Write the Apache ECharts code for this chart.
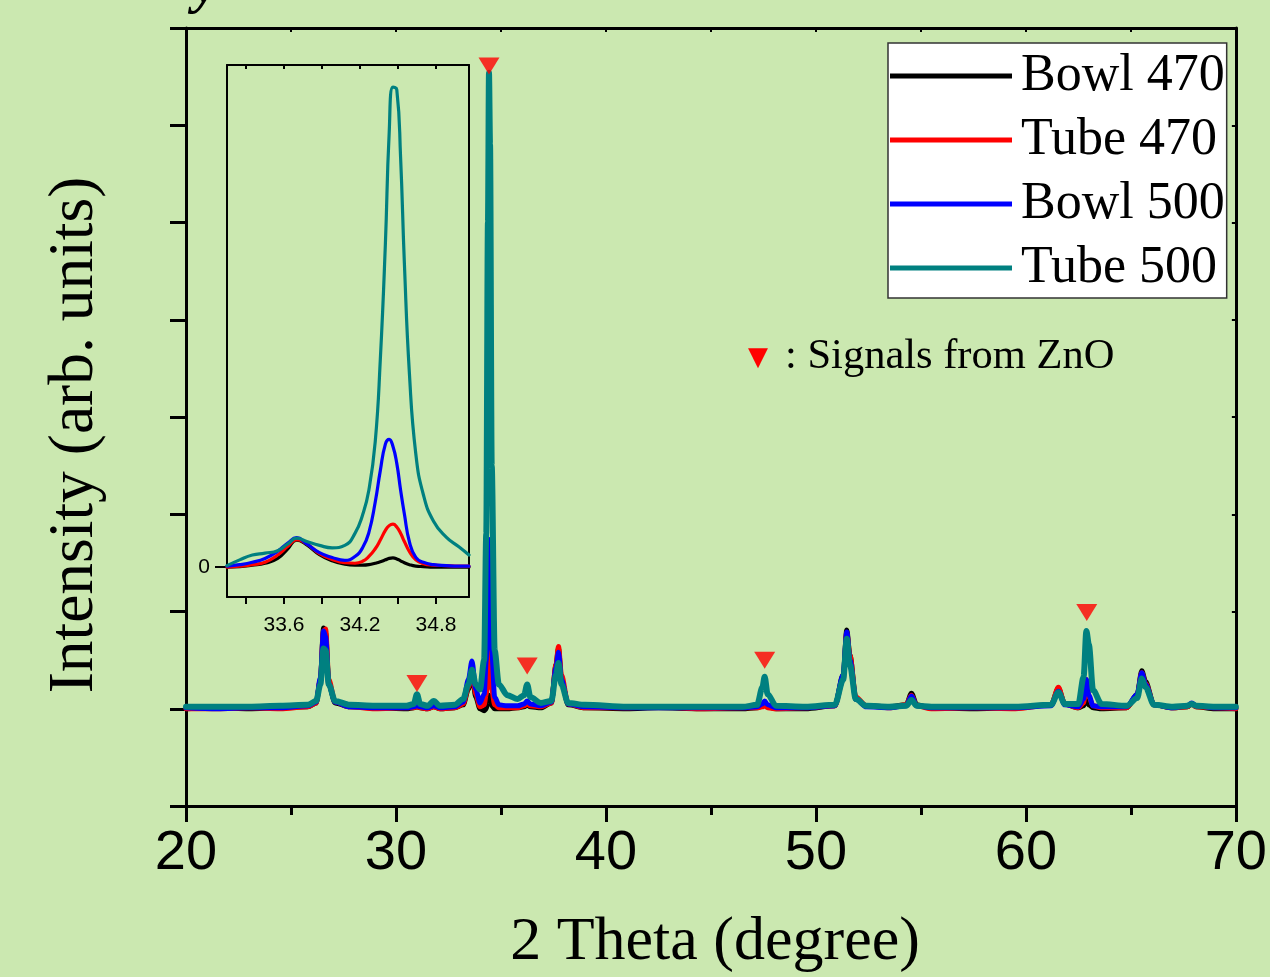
<!DOCTYPE html>
<html><head><meta charset="utf-8">
<script src="https://cdn.jsdelivr.net/npm/echarts@6/dist/echarts.min.js"></script>
<style>html,body{margin:0;padding:0;background:#cbe8b0;}#c{width:1270px;height:977px;}</style>
</head><body><div id="c"></div>
<script>
// ---- main pattern (2 theta, intensity in arb. units, baseline = 0) ----
const twoTheta = [20.0,21.5,23.0,24.5,25.8,26.2,26.4,26.55,26.65,26.8,27.1,27.8,29.0,30.5,30.85,31.0,31.15,31.5,31.8,32.1,32.8,33.2,33.45,33.62,33.8,34.0,34.2,34.3,34.38,34.43,34.48,34.56,34.7,34.9,35.3,35.8,36.1,36.25,36.4,36.9,37.4,37.62,37.74,37.88,38.2,39.0,41.0,42.5,44.5,46.5,47.2,47.45,47.56,47.7,48.1,49.5,50.9,51.3,51.47,51.62,51.9,52.4,53.5,54.3,54.55,54.8,55.5,57.5,59.5,61.2,61.55,61.85,62.5,62.75,62.88,63.0,63.2,63.6,64.8,65.3,65.52,65.7,66.1,67.0,67.7,67.9,68.1,69.0,70.0];
const bowl470 = [0.0,0.01,0.0,0.01,0.02,0.06,0.3,0.83,0.78,0.25,0.06,0.02,0.01,0.0,0.01,0.02,0.01,0.0,0.02,0.0,0.01,0.04,0.2,0.38,0.12,0.0,-0.02,0.0,0.08,0.14,0.1,0.03,0.0,0.0,0.0,0.01,0.02,0.04,0.02,0.01,0.06,0.45,0.62,0.3,0.04,0.01,0.0,0.01,0.0,0.0,0.01,0.03,0.05,0.02,0.0,0.0,0.03,0.35,0.81,0.55,0.1,0.03,0.02,0.04,0.16,0.04,0.01,0.0,0.01,0.04,0.21,0.05,0.01,0.03,0.1,0.04,0.01,0.0,0.01,0.15,0.39,0.28,0.04,0.01,0.02,0.05,0.02,0.0,0.0];
const tube470 = [0.0,0.0,0.01,0.0,0.02,0.06,0.3,0.8,0.82,0.3,0.07,0.02,0.0,0.01,0.01,0.02,0.01,0.0,0.02,0.0,0.01,0.05,0.22,0.42,0.15,0.02,0.04,0.15,0.45,0.6,0.5,0.2,0.04,0.01,0.01,0.01,0.03,0.05,0.03,0.02,0.06,0.45,0.64,0.35,0.05,0.01,0.01,0.02,0.0,0.01,0.01,0.02,0.03,0.01,0.0,0.01,0.03,0.3,0.78,0.55,0.12,0.03,0.01,0.04,0.14,0.03,0.0,0.01,0.0,0.04,0.22,0.05,0.01,0.06,0.3,0.12,0.03,0.01,0.01,0.14,0.37,0.26,0.04,0.01,0.02,0.05,0.02,0.01,0.0];
const bowl500 = [0.01,0.0,0.01,0.01,0.03,0.07,0.32,0.8,0.74,0.25,0.07,0.02,0.01,0.01,0.02,0.03,0.02,0.01,0.03,0.01,0.02,0.07,0.3,0.49,0.2,0.06,0.15,0.5,1.4,1.74,1.5,0.6,0.12,0.04,0.03,0.03,0.05,0.08,0.05,0.03,0.07,0.42,0.58,0.3,0.05,0.02,0.01,0.01,0.01,0.01,0.02,0.05,0.08,0.04,0.01,0.01,0.03,0.35,0.79,0.5,0.1,0.02,0.01,0.03,0.13,0.03,0.01,0.01,0.01,0.03,0.18,0.04,0.02,0.1,0.3,0.14,0.03,0.02,0.02,0.15,0.37,0.25,0.04,0.01,0.03,0.06,0.03,0.01,0.01];
const tube500 = [0.02,0.02,0.02,0.03,0.04,0.08,0.25,0.62,0.6,0.25,0.08,0.04,0.03,0.03,0.05,0.15,0.05,0.03,0.08,0.03,0.04,0.1,0.25,0.4,0.25,0.2,0.5,1.8,5.0,6.54,5.8,2.5,0.6,0.25,0.14,0.1,0.14,0.25,0.12,0.06,0.08,0.35,0.47,0.25,0.06,0.04,0.02,0.02,0.02,0.02,0.04,0.22,0.33,0.15,0.03,0.02,0.04,0.3,0.72,0.45,0.1,0.03,0.02,0.03,0.09,0.03,0.02,0.02,0.02,0.04,0.17,0.05,0.05,0.33,0.8,0.66,0.19,0.05,0.03,0.11,0.31,0.22,0.04,0.02,0.03,0.05,0.03,0.02,0.02];

// ---- ZnO markers ----
const znoTheta = [31.0, 34.43, 36.25, 47.56, 62.9];
const znoMarkerY = [0.26, 6.61, 0.44, 0.50, 0.99];

// ---- inset (zoom around 34.4 deg, Tube 500 peak = 100) ----
const insetTheta = [33.15,33.25,33.35,33.45,33.55,33.63,33.7,33.78,33.88,33.98,34.08,34.16,34.22,34.27,34.32,34.36,34.4,34.43,34.46,34.49,34.52,34.55,34.59,34.64,34.7,34.78,34.88,34.98,35.06];
const insetBowl470 = [0,0.1,0.4,0.8,1.8,3.8,5.6,4.6,2.6,1.3,0.6,0.4,0.4,0.5,0.8,1.1,1.5,1.8,1.9,1.7,1.3,0.9,0.5,0.2,0.1,0,0,0,0];
const insetTube470 = [0,0.2,0.5,1.0,2.5,4.3,5.7,4.8,2.8,1.6,0.9,0.8,1.2,2.2,3.8,5.6,7.6,8.6,8.9,8.3,7.0,5.3,3.2,1.5,0.7,0.4,0.3,0.2,0.2];
const insetBowl500 = [0.2,0.5,1.0,1.8,3.3,5.0,6.1,4.8,3.0,2.0,1.4,2.2,4.0,7.2,13.5,20,25.5,26.5,25,21.5,16,11,5.2,2.0,1.0,0.5,0.3,0.2,0.2];
const insetTube500 = [0.3,1.5,2.5,2.9,3.4,4.8,6.0,5.3,4.5,4.0,4.5,7.0,10.8,16,26,43,67,90,99.5,99,85,63,40,23.5,15,9.5,6.2,4.2,2.5];
const insetTicks = [33.3,33.6,33.9,34.2,34.5,34.8];
const insetTickLabels = [33.6,34.2,34.8];

const names = ['Bowl 470','Tube 470','Bowl 500','Tube 500'];
const colors = ['#000000','#ff0000','#0000ff','#008080'];
const mainY = [bowl470, tube470, bowl500, tube500];
const insetY = [insetBowl470, insetTube470, insetBowl500, insetTube500];
const mainWidth = [5, 5, 5, 6];

const chart = echarts.init(document.getElementById('c'), null, {renderer:'canvas'});
const series = [];
names.forEach((n,k)=>{
  series.push({name:n, type:'line', xAxisIndex:0, yAxisIndex:0, showSymbol:false, symbol:'none',
    smooth:0.3, smoothMonotone:'x', z:2+k,
    data: twoTheta.map((x,i)=>[x, mainY[k][i]]),
    lineStyle:{color:colors[k], width:mainWidth[k], join:'round', cap:'round'}, itemStyle:{color:colors[k]}});
});
names.forEach((n,k)=>{
  series.push({name:n, type:'line', xAxisIndex:2, yAxisIndex:2, showSymbol:false, symbol:'none',
    smooth:0.5, z:2+k,
    data: insetTheta.map((x,i)=>[x, insetY[k][i]]),
    lineStyle:{color:colors[k], width:3.2, join:'round', cap:'round'}, itemStyle:{color:colors[k]}});
});
series.push({type:'scatter', xAxisIndex:0, yAxisIndex:0, symbol:'triangle', symbolRotate:180,
  symbolSize:[21,17], itemStyle:{color:'#ff0000'}, z:10, silent:true,
  data: znoTheta.map((x,i)=>[x, znoMarkerY[i]])});

const black = '#000';
chart.setOption({
  animation:false,
  backgroundColor:'#cbe8b0',
  grid:[
    {left:186, right:28, top:28, bottom:171, show:false},
    {left:227, top:65, width:242, height:532, show:false}
  ],
  legend:{
    data:names, orient:'vertical', left:888, top:43,
    backgroundColor:'#ffffff', borderColor:'#333', borderWidth:1.5,
    padding:[7,2,4,2], itemGap:12, itemWidth:122, itemHeight:5, icon:'rect',
    textStyle:{fontFamily:'Liberation Serif', fontSize:52, color:'#000', padding:[0,0,0,4]}
  },
  xAxis:[
    {gridIndex:0, type:'value', position:'bottom', min:20, max:70, interval:10,
      axisLine:{onZero:false, lineStyle:{color:black, width:3}},
      axisTick:{length:16, lineStyle:{width:3, color:black}},
      minorTick:{show:true, splitNumber:2, length:9, lineStyle:{width:3, color:black}},
      axisLabel:{fontFamily:'Liberation Sans', fontSize:56, color:black, margin:20},
      splitLine:{show:false}, minorSplitLine:{show:false}},
    {gridIndex:0, type:'value', position:'top', min:20, max:70, interval:5,
      axisLine:{onZero:false, lineStyle:{color:black, width:3}},
      axisTick:{inside:true, length:4, lineStyle:{width:2, color:black}},
      axisLabel:{show:false}, splitLine:{show:false}},
    {gridIndex:1, type:'value', position:'bottom', min:33.15, max:35.06,
      axisLine:{onZero:false, lineStyle:{color:black, width:2}},
      axisTick:{customValues:insetTicks, length:7, lineStyle:{width:2, color:black}},
      axisLabel:{customValues:insetTickLabels, fontFamily:'Liberation Sans', fontSize:21, color:black, margin:18,
        formatter:v=>v.toFixed(1)},
      splitLine:{show:false}},
    {gridIndex:1, type:'value', position:'top', min:33.15, max:35.06,
      axisLine:{onZero:false, lineStyle:{color:black, width:2}},
      axisTick:{customValues:insetTicks, inside:true, length:4, lineStyle:{width:2, color:black}},
      axisLabel:{show:false}, splitLine:{show:false}}
  ],
  yAxis:[
    {gridIndex:0, type:'value', position:'left', min:-1, max:7, interval:1,
      axisLine:{show:true, onZero:false, lineStyle:{color:black, width:3}},
      axisTick:{show:true, length:16, lineStyle:{width:3, color:black}},
      axisLabel:{show:false}, splitLine:{show:false}},
    {gridIndex:0, type:'value', position:'right', min:-1, max:7, interval:1,
      axisLine:{show:true, onZero:false, lineStyle:{color:black, width:3}},
      axisTick:{show:true, inside:true, length:4, lineStyle:{width:2, color:black}},
      axisLabel:{show:false}, splitLine:{show:false}},
    {gridIndex:1, type:'value', position:'left', min:-6.2, max:104.1,
      axisLine:{show:true, onZero:false, lineStyle:{color:black, width:2}},
      axisTick:{show:true, customValues:[0], length:12, lineStyle:{width:2, color:black}},
      axisLabel:{customValues:[0], fontFamily:'Liberation Sans', fontSize:21, color:black, margin:17},
      splitLine:{show:false}},
    {gridIndex:1, type:'value', position:'right', min:-6.2, max:104.1,
      axisLine:{show:true, onZero:false, lineStyle:{color:black, width:2}},
      axisTick:{show:false}, axisLabel:{show:false}, splitLine:{show:false}}
  ],
  graphic:[
    {type:'text', x:75, y:435, rotation:Math.PI/2,
      style:{text:'Intensity (arb. units)', font:'63.5px "Liberation Serif"', fill:'#000', textAlign:'center', textVerticalAlign:'middle'}},
    {type:'text', x:715, y:943,
      style:{text:'2 Theta (degree)', font:'62px "Liberation Serif"', fill:'#000', textAlign:'center', textVerticalAlign:'middle'}},
    {type:'text', x:758, y:358,
      style:{text:'\u25BC', font:'26px "DejaVu Sans"', fill:'#ff0000', textAlign:'center', textVerticalAlign:'middle'}},
    {type:'text', x:785, y:357,
      style:{text:': Signals from ZnO', font:'42.5px "Liberation Serif"', fill:'#000', textAlign:'left', textVerticalAlign:'middle'}},
    {type:'text', x:206, y:16,
      style:{text:'y', font:'italic bold 56px "Liberation Serif"', fill:'#000', textAlign:'center', textVerticalAlign:'bottom'}}
  ],
  series:series
});
</script></body></html>
